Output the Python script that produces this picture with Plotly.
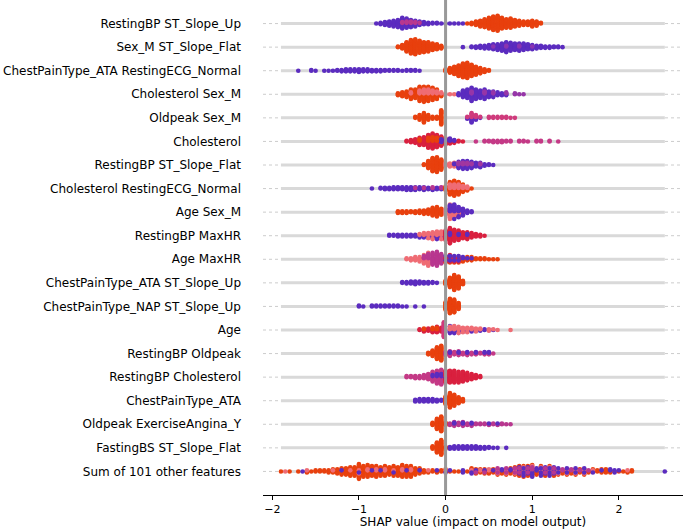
import numpy as np
import plotly.graph_objects as go

# feature names, top row first
features = [
    "RestingBP ST_Slope_Up", "Sex_M ST_Slope_Flat", "ChestPainType_ATA RestingECG_Normal",
    "Cholesterol Sex_M", "Oldpeak Sex_M", "Cholesterol", "RestingBP ST_Slope_Flat",
    "Cholesterol RestingECG_Normal", "Age Sex_M", "RestingBP MaxHR", "Age MaxHR",
    "ChestPainType_ATA ST_Slope_Up", "ChestPainType_NAP ST_Slope_Up", "Age",
    "RestingBP Oldpeak", "RestingBP Cholesterol", "ChestPainType_ATA",
    "Oldpeak ExerciseAngina_Y", "FastingBS ST_Slope_Flat", "Sum of 101 other features",
]

# each row: (feature value 0=low..1=high, shap values, number of samples at that value)
row01 = [
    (0.0, [-0.80, -0.75, -0.70, -0.65, -0.60, -0.55, -0.50, -0.45, -0.40, -0.35, -0.30, -0.25, -0.20,
           -0.15, -0.10, -0.05, 0.00, 0.05, 0.10, 0.15, 0.20],
     [1, 3, 5, 7, 9, 11, 14, 11, 8, 7, 5, 4, 3, 2, 2, 1, 1, 1, 1, 1, 1]),
    (0.5, [-0.50, -0.45, -0.40, -0.35, -0.30], [2, 3, 3, 2, 1]),
    (1.0, [0.25, 0.30, 0.35, 0.40, 0.45, 0.50, 0.55, 0.60, 0.65, 0.70, 0.75, 0.80, 0.85, 0.90, 0.95,
           1.00, 1.05, 1.10],
     [1, 3, 6, 9, 12, 16, 20, 22, 16, 13, 14, 10, 8, 6, 6, 9, 7, 2]),
]
row02 = [
    (1.0, [-0.55, -0.50, -0.45, -0.40, -0.35, -0.30, -0.25, -0.20, -0.15, -0.10, -0.05],
     [2, 6, 14, 20, 22, 18, 15, 14, 10, 8, 5]),
    (0.0, [0.20, 0.30, 0.35, 0.40, 0.45, 0.50, 0.55, 0.60, 0.65, 0.70, 0.75, 0.80, 0.85, 0.90, 0.95,
           1.00, 1.05, 1.10, 1.15, 1.20, 1.25, 1.30, 1.35],
     [1, 2, 3, 4, 5, 6, 7, 9, 11, 13, 12, 10, 9, 10, 8, 6, 5, 4, 3, 3, 2, 2, 1]),
    (0.3, [0.55, 0.70, 0.85, 1.00], [1, 2, 2, 1]),
]
row03 = [
    (0.0, [-1.70, -1.55, -1.50, -1.40, -1.35, -1.30, -1.25, -1.20, -1.15, -1.10, -1.05, -1.00, -0.95,
           -0.90, -0.85, -0.80, -0.75, -0.70, -0.65, -0.60, -0.55, -0.50, -0.45, -0.40, -0.35, -0.30],
     [1, 2, 1, 1, 1, 1, 2, 3, 4, 4, 4, 5, 4, 4, 3, 3, 3, 2, 2, 2, 2, 1, 2, 2, 2, 1]),
    (1.0, [0.00, 0.05, 0.10, 0.15, 0.20, 0.25, 0.30, 0.35, 0.40, 0.45, 0.50],
     [4, 8, 12, 17, 22, 24, 18, 13, 9, 5, 2]),
]
row04 = [
    (1.0, [-0.55, -0.50, -0.45, -0.40, -0.35, -0.30, -0.25, -0.20, -0.15, -0.10, -0.05],
     [3, 5, 7, 9, 10, 12, 12, 11, 10, 8, 3]),
    (0.7, [-0.40, -0.30, -0.25, -0.20, -0.15, -0.10, -0.05, 0.00, 0.05, 0.10],
     [2, 4, 5, 5, 4, 3, 2, 1, 1, 1]),
    (0.0, [0.15, 0.20, 0.25, 0.30, 0.35, 0.40, 0.45, 0.50, 0.55, 0.60, 0.65, 0.70],
     [3, 8, 10, 12, 11, 9, 8, 7, 5, 4, 3, 2]),
    (0.35, [0.30, 0.45, 0.55, 0.70, 0.80, 0.85, 0.90], [3, 3, 2, 2, 2, 1, 1]),
]
row05 = [
    (1.0, [-0.35, -0.30, -0.25, -0.20, -0.15, -0.10, -0.05], [2, 6, 11, 6, 3, 3, 16]),
    (0.0, [0.25, 0.30, 0.35, 0.40], [2, 6, 3, 1]),
    (0.6, [0.25, 0.30, 0.35, 0.40, 0.50, 0.55, 0.60, 0.65, 0.70, 0.75, 0.80],
     [1, 5, 3, 1, 2, 2, 2, 2, 2, 1, 1]),
]
row06 = [
    (0.85, [-0.45, -0.40, -0.35, -0.30, -0.25, -0.20, -0.15, -0.10, -0.05, 0.00, 0.05, 0.10, 0.15, 0.20],
     [2, 4, 6, 8, 12, 14, 16, 13, 9, 6, 4, 3, 2, 1]),
    (1.0, [-0.30, -0.20, -0.15, -0.10, -0.05], [3, 5, 6, 5, 3]),
    (0.0, [-0.05, 0.00, 0.05, 0.10], [2, 3, 4, 2]),
    (0.55, [0.35, 0.45, 0.50, 0.55, 0.60, 0.65, 0.70, 0.75, 0.85, 0.90, 0.95, 1.05, 1.10, 1.20, 1.30],
     [1, 2, 2, 3, 3, 3, 2, 2, 2, 2, 1, 2, 2, 2, 1]),
]
row07 = [
    (1.0, [-0.25, -0.20, -0.15, -0.10, -0.05], [2, 10, 18, 20, 14]),
    (0.7, [0.00, 0.05, 0.10], [4, 5, 4]),
    (0.0, [0.10, 0.15, 0.20, 0.25, 0.30, 0.35, 0.40, 0.45, 0.50, 0.55], [2, 6, 8, 8, 7, 6, 5, 3, 2, 1]),
    (0.4, [0.15, 0.20, 0.25, 0.30, 0.40], [3, 3, 3, 2, 2]),
]
row08 = [
    (0.0, [-0.85, -0.75, -0.70, -0.65, -0.60, -0.55, -0.50, -0.45, -0.40, -0.35, -0.30, -0.25, -0.20,
           -0.15, -0.10, -0.05],
     [1, 2, 3, 3, 4, 4, 4, 5, 5, 4, 4, 4, 3, 3, 3, 2]),
    (0.5, [-0.35, -0.25, -0.15, -0.05], [1, 1, 2, 2]),
    (1.0, [0.00, 0.05, 0.10, 0.15, 0.20, 0.25, 0.30], [6, 14, 18, 14, 8, 4, 1]),
    (0.7, [0.05, 0.10, 0.15, 0.20, 0.25], [6, 6, 6, 4, 3]),
]
row09 = [
    (1.0, [-0.55, -0.50, -0.45, -0.40, -0.35, -0.30, -0.25, -0.20, -0.15, -0.10, -0.05],
     [3, 3, 3, 2, 3, 4, 5, 6, 10, 12, 8]),
    (0.7, [0.00, 0.05, 0.10, 0.15, 0.20], [8, 10, 8, 5, 3]),
    (0.0, [0.05, 0.10, 0.15, 0.20, 0.25, 0.30], [8, 10, 8, 6, 4, 2]),
]
row10 = [
    (0.0, [-0.65, -0.60, -0.55, -0.50, -0.45, -0.40, -0.35, -0.30, -0.25, -0.20, -0.15, -0.10, -0.05],
     [2, 2, 3, 3, 3, 3, 3, 3, 3, 3, 4, 5, 4]),
    (0.7, [-0.30, -0.25, -0.20, -0.15, -0.10, -0.05], [2, 3, 4, 5, 5, 6]),
    (0.85, [0.00, 0.05, 0.10, 0.15, 0.20, 0.25, 0.30, 0.35, 0.40, 0.45], [12, 16, 14, 10, 8, 7, 6, 4, 3, 1]),
    (0.0, [0.05, 0.15, 0.25], [3, 2, 2]),
]
row11 = [
    (0.7, [-0.45, -0.40, -0.35, -0.30, -0.25, -0.20], [2, 3, 4, 5, 6, 8]),
    (0.5, [-0.25, -0.20, -0.15, -0.10, -0.05], [3, 5, 12, 14, 10]),
    (1.0, [0.00, 0.05, 0.10, 0.15, 0.20, 0.25, 0.30, 0.35, 0.40, 0.45, 0.50, 0.55, 0.60],
     [3, 3, 3, 3, 3, 3, 3, 2, 2, 2, 1, 1, 1]),
    (0.85, [0.00, 0.05, 0.10, 0.15], [2, 3, 2, 2]),
    (0.0, [0.00, 0.05, 0.10, 0.15, 0.20, 0.25, 0.30], [2, 2, 2, 2, 2, 1, 1]),
]
row12 = [
    (0.0, [-0.50, -0.45, -0.40, -0.35, -0.30, -0.25, -0.20, -0.15, -0.10], [2, 3, 4, 5, 4, 3, 3, 2, 1]),
    (1.0, [0.00, 0.05, 0.10, 0.15, 0.20], [6, 14, 22, 18, 6]),
]
row13 = [
    (0.0, [-1.00, -0.95, -0.85, -0.80, -0.75, -0.70, -0.65, -0.60, -0.55, -0.50, -0.45, -0.35, -0.25],
     [2, 1, 2, 2, 2, 2, 2, 2, 2, 1, 1, 1, 1]),
    (1.0, [0.00, 0.05, 0.10, 0.15], [10, 18, 16, 8]),
]
row14 = [
    (0.85, [-0.30, -0.25, -0.20, -0.15, -0.10, -0.05], [2, 3, 4, 4, 5, 6]),
    (1.0, [-0.25, -0.15, -0.10], [2, 3, 3]),
    (0.6, [-0.02], [20]),
    (0.0, [0.05, 0.10, 0.15, 0.20, 0.25, 0.30, 0.35, 0.40, 0.45, 0.50, 0.55], [6, 5, 4, 3, 3, 3, 2, 2, 2, 1, 1]),
    (0.7, [0.05, 0.10, 0.15, 0.20, 0.25, 0.30, 0.35, 0.40, 0.50, 0.55, 0.60, 0.75],
     [4, 5, 5, 4, 4, 3, 3, 2, 2, 1, 1, 1]),
]
row15 = [
    (1.0, [-0.20, -0.15, -0.10, -0.05], [3, 8, 16, 20]),
    (0.55, [0.00, 0.05, 0.10, 0.15, 0.20, 0.25, 0.30, 0.35, 0.40, 0.45, 0.50, 0.55],
     [5, 5, 4, 4, 3, 3, 3, 2, 2, 2, 2, 1]),
    (0.0, [0.05, 0.15, 0.25, 0.35, 0.45, 0.50], [2, 2, 2, 2, 2, 2]),
]
row16 = [
    (0.55, [-0.45, -0.40, -0.35, -0.30, -0.25, -0.20, -0.15, -0.10, -0.05], [2, 2, 3, 3, 4, 6, 8, 10, 12]),
    (0.0, [-0.15, -0.10, -0.05, 0.00], [2, 3, 3, 2]),
    (0.85, [0.00, 0.05, 0.10, 0.15, 0.20, 0.25, 0.30, 0.35, 0.40], [10, 12, 12, 11, 10, 8, 6, 4, 2]),
]
row17 = [
    (0.0, [-0.35, -0.30, -0.25, -0.20, -0.15, -0.10, -0.05], [3, 4, 4, 4, 4, 3, 2]),
    (1.0, [0.00, 0.05, 0.10, 0.15, 0.20], [10, 18, 14, 8, 4]),
]
row18 = [
    (1.0, [-0.15, -0.10, -0.05, 0.00], [4, 14, 20, 4]),
    (0.5, [0.05, 0.10, 0.15, 0.20, 0.25, 0.30, 0.35, 0.40, 0.45, 0.50, 0.55, 0.60, 0.65, 0.70, 0.75],
     [3, 4, 4, 4, 3, 3, 2, 2, 2, 2, 2, 2, 2, 1, 1]),
    (0.0, [0.10, 0.20, 0.30, 0.50, 0.60], [2, 2, 2, 1, 1]),
]
row19 = [
    (1.0, [-0.15, -0.10, -0.05, 0.00], [4, 14, 20, 3]),
    (0.0, [0.05, 0.10, 0.15, 0.20, 0.25, 0.30, 0.35, 0.40, 0.45, 0.50, 0.55, 0.60, 0.70],
     [3, 4, 4, 4, 4, 4, 4, 3, 3, 2, 1, 1, 1]),
]
row20 = [
    (1.0, [-1.90, -1.80, -1.70, -1.60, -1.55, -1.50, -1.45, -1.40, -1.35, -1.30, -1.25, -1.20, -1.15,
           -1.10, -1.05, -1.00, -0.95, -0.90, -0.85, -0.80, -0.75, -0.70, -0.65, -0.60, -0.55, -0.50,
           -0.45, -0.40, -0.35, -0.30, -0.25, -0.20, -0.15, -0.10, -0.05, 0.00, 0.05, 0.10, 0.15, 0.20,
           0.25, 0.30, 0.35, 0.40, 0.45, 0.50, 0.55, 0.60, 0.65, 0.70, 0.75, 0.80, 0.85, 0.90, 0.95,
           1.00, 1.05, 1.10, 1.15, 1.20, 1.25, 1.30, 1.35, 1.40, 1.45, 1.50, 1.55, 1.60, 1.65, 1.70,
           1.75, 1.80, 1.85, 1.90, 1.95, 2.00, 2.05, 2.10, 2.15],
     [1, 1, 1, 2, 1, 2, 2, 2, 3, 3, 5, 6, 7, 8, 9, 12, 11, 10, 9, 9, 8, 8, 8, 8, 9, 10, 10, 9, 7, 5,
      3, 2, 2, 2, 2, 2, 1, 1, 1, 1, 1, 3, 3, 3, 3, 3, 3, 3, 3, 3, 4, 4, 5, 5, 5, 4, 4, 4, 4, 4, 4, 3,
      3, 3, 3, 3, 3, 3, 2, 2, 2, 3, 4, 2, 1, 1, 1, 2, 2]),
    (0.7, [-1.85, -1.60, -1.30, -1.10, -1.00, -0.90, -0.80, -0.70, -0.60, -0.50, -0.40, -0.20, 0.00,
           0.30, 0.40, 0.50, 0.60, 0.70, 0.80, 0.90, 1.00, 1.10, 1.20, 1.30, 1.40, 1.50, 1.60, 1.70, 2.10],
     [1, 1, 1, 1, 2, 2, 2, 2, 1, 2, 2, 1, 1, 1, 1, 2, 2, 2, 2, 3, 3, 3, 3, 2, 2, 2, 2, 1, 1]),
    (0.0, [-1.65, -1.20, -1.00, -0.85, -0.75, -0.60, -0.45, -0.30, -0.10, 0.00, 0.05, 0.20, 0.30,
           0.35, 0.45, 0.55, 0.65, 0.75, 0.85, 0.90, 0.95, 1.00, 1.05, 1.10, 1.15, 1.20, 1.25, 1.30,
           1.40, 1.50, 1.60, 1.70, 1.80, 1.90, 1.95, 2.00, 2.53],
     [1, 1, 1, 1, 1, 1, 1, 1, 1, 1, 1, 2, 2, 1, 1, 1, 2, 2, 3, 3, 3, 3, 3, 3, 3, 3, 3, 2, 2, 2, 2,
      1, 1, 2, 2, 1, 1]),
    (0.5, [0.35, 0.45, 0.60, 0.70, 0.80, 0.85, 0.95, 1.00, 1.15, 1.25, 1.35, 1.45, 1.55, 1.65],
     [1, 1, 2, 2, 2, 2, 2, 2, 2, 2, 2, 2, 1, 1]),
]

rows = [row01, row02, row03, row04, row05, row06, row07, row08, row09, row10,
        row11, row12, row13, row14, row15, row16, row17, row18, row19, row20]

colorscale = [
    [0.0, "#5b2cbf"], [0.3, "#8a34b0"], [0.5, "#b8378f"], [0.6, "#cf3a7c"],
    [0.7, "#ef6c74"], [0.85, "#d9203f"], [1.0, "#e8400e"],
]


def swarm(groups, nbins=100, row_height=0.4):
    # same stacking idea as shap's beeswarm
    xs, cs, rk = [], [], []
    for fv, vals, cnts in groups:
        for v, n in zip(vals, cnts):
            for k in range(n):
                xs.append(v)
                cs.append(fv)
                rk.append(k)
    xs = np.array(xs)
    cs = np.array(cs)
    rk = np.array(rk)
    quant = np.round(nbins * (xs - xs.min()) / (xs.max() - xs.min() + 1e-8))
    order = np.lexsort((rk, quant))
    ys = np.zeros(len(xs))
    layer = 0
    last = -1
    for i in order:
        if quant[i] != last:
            layer = 0
        ys[i] = np.ceil(layer / 2) * ((layer % 2) * 2 - 1)
        layer += 1
        last = quant[i]
    ys *= 0.9 * (row_height / np.max(ys + 1))
    return xs, ys, cs


n_rows = len(features)
all_x = [v for r in rows for g in r for v in g[1]]
xmin, xmax = min(all_x), max(all_x)

fig = go.Figure()
shapes = []
for i, (name, groups) in enumerate(zip(features, rows)):
    pos = n_rows - 1 - i
    shapes.append(dict(type="line", xref="paper", x0=0, x1=1, y0=pos, y1=pos,
                       line=dict(color="#cccccc", width=1, dash="dot"), layer="below"))
    shapes.append(dict(type="line", xref="x", x0=xmin, x1=xmax, y0=pos, y1=pos,
                       line=dict(color="#d9d9d9", width=3), layer="below"))
    xs, ys, cs = swarm(groups)
    fig.add_trace(go.Scatter(
        x=xs, y=pos + ys, mode="markers", name=name, hoverinfo="x",
        marker=dict(size=4.6, color=cs, colorscale=colorscale, cmin=0, cmax=1,
                    showscale=False, line=dict(width=0)),
    ))

shapes.append(dict(type="line", x0=0, x1=0, yref="paper", y0=0, y1=1,
                   line=dict(color="#999999", width=3), layer="above"))

fig.update_layout(
    width=685, height=529,
    margin=dict(l=263, r=2, t=0, b=34),
    plot_bgcolor="white", paper_bgcolor="white",
    showlegend=False,
    font=dict(family="DejaVu Sans", color="black"),
    shapes=shapes,
    xaxis=dict(
        range=[-2.107, 2.74], tickvals=[-2, -1, 0, 1, 2], automargin=False,
        ticks="outside", ticklen=4, tickcolor="black",
        showline=True, linecolor="black", linewidth=1,
        showgrid=False, zeroline=False, tickfont=dict(size=11),
        title=dict(text="SHAP value (impact on model output)", font=dict(size=12), standoff=4),
    ),
    yaxis=dict(
        range=[-1, n_rows], tickvals=[n_rows - 1 - i for i in range(n_rows)], ticktext=features,
        automargin=False, showgrid=False, zeroline=False, showline=False, ticks="",
        tickfont=dict(size=12), ticklabelstandoff=21,
    ),
)

# the page body has a default 8px margin; drop it so the figure fills the window
fig.write_html("out.html", config={"displayModeBar": False},
               post_script="document.body.style.margin='0';")
